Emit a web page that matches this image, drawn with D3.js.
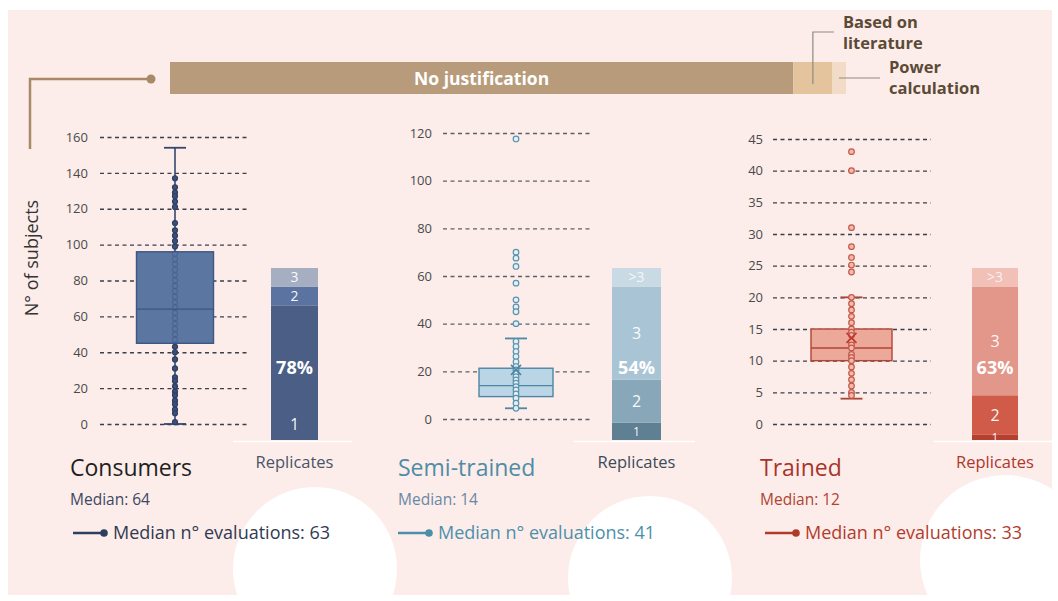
<!DOCTYPE html>
<html>
<head>
<meta charset="utf-8">
<script src="https://cdn.jsdelivr.net/npm/d3@7"></script>
<style>
  body { margin: 0; background: #fff; }
  svg { display: block; }
  text { font-family: "Open Sans", Roboto, sans-serif; }
</style>
</head>
<body>
<div id="chart"></div>
<script>
// justification of panel size (share of studies, %)
const justification = ["No justification", "Based on literature", "Power calculation"]
const justificationShare = [92.2, 5.8, 2.0]

// the three panel types
const groups = ["Consumers", "Semi-trained", "Trained"]
const medians = [64, 14, 12]
const medianEvaluations = [63, 41, 33]

const yTicks = [
  [0, 20, 40, 60, 80, 100, 120, 140, 160],
  [0, 20, 40, 60, 80, 100, 120],
  [0, 5, 10, 15, 20, 25, 30, 35, 40, 45]
]

// box plot stats (n° of subjects)
const boxLow = [0, 4.5, 4]
const boxQ1 = [45, 9.4, 10]
const boxQ3 = [96, 21.3, 15]
const boxHigh = [154, 33.8, 20]
const boxMean = [null, 20.6, 13.6]

// individual studies
const consumerPoints = [137, 132, 129, 127, 124, 121, 112, 108, 105, 102, 99,
  95, 92, 89, 86, 83, 80, 77, 74, 71, 68, 65, 62, 59, 56, 53, 50, 47,
  43, 40, 36, 31, 26, 24, 21, 18, 16, 13, 11, 8, 6, 1]
const semiPoints = [117.5, 70, 67.5, 64, 57, 50, 47, 45, 40,
  32.5, 30.4, 28.3, 26.2, 24, 22, 20.6, 19.2, 17.8, 16.4, 15, 13.6, 12.2, 10.5, 8.7, 6.6, 4.5]
const trainedPoints = [43, 40, 31, 28, 26.3, 25.1, 24,
  20, 19, 18, 17, 16, 15, 14.5, 14, 13, 12.5, 12, 11, 10.5, 10, 9, 8, 7, 6, 5, 4.5]
const points = [consumerPoints, semiPoints, trainedPoints]

// replicates (share of studies, %)
const replicateLabels = [["1", "2", "3"], ["1", "2", "3", ">3"], ["1", "2", "3", ">3"]]
const replicateShares = [[78, 11, 11], [10, 25, 54, 11], [3, 23, 63, 11]]
const replicateHighlight = [0, 2, 2]

const width = 1058
const height = 601

const svg = d3.select('#chart')
  .append('svg')
  .attr('width', width)
  .attr('height', height)

svg.append('rect')
  .attr('x', 8).attr('y', 10)
  .attr('width', 1044).attr('height', 585)
  .attr('fill', '#fcedea')

// white discs at the bottom
const discs = [[315, 569, 82], [650, 578, 82], [1005, 560, 85]]
svg.selectAll('circle.disc')
  .data(discs)
  .join('circle')
  .attr('class', 'disc')
  .attr('cx', d => d[0]).attr('cy', d => d[1]).attr('r', d => d[2])
  .attr('fill', '#fff')

// ---- top bar ----
const xShare = d3.scaleLinear().domain([0, 100]).range([170, 846])
const starts = d3.cumsum([0, ...justificationShare])
const topColors = ['#b89b7b', '#e3c49c', '#f2dcc8']

svg.append('g')
  .selectAll('rect')
  .data(justification)
  .join('rect')
  .attr('x', (d, i) => xShare(starts[i]))
  .attr('width', (d, i) => xShare(starts[i] + justificationShare[i]) - xShare(starts[i]))
  .attr('y', 62)
  .attr('height', 32)
  .attr('fill', (d, i) => topColors[i])

svg.append('text')
  .attr('x', (xShare(0) + xShare(justificationShare[0])) / 2)
  .attr('y', 84.5)
  .attr('text-anchor', 'middle')
  .attr('fill', '#fff')
  .attr('font-size', 17.5)
  .attr('font-weight', 700)
  .attr('font-family', 'Inter')
  .text(justification[0])

// connector to y axis
svg.append('path')
  .attr('d', 'M151,79 H30 V149')
  .attr('fill', 'none')
  .attr('stroke', '#a98a68')
  .attr('stroke-width', 2.5)
svg.append('circle')
  .attr('cx', 151).attr('cy', 79).attr('r', 4.5)
  .attr('fill', '#a98a68')

// leader lines
const litX = (xShare(starts[1]) + xShare(starts[2])) / 2
svg.append('path')
  .attr('d', `M${litX},84 V32 H834`)
  .attr('fill', 'none').attr('stroke', '#8f8a84').attr('stroke-width', 1.2)
svg.append('path')
  .attr('d', `M${xShare(100) - 7},78 H880`)
  .attr('fill', 'none').attr('stroke', '#8f8a84').attr('stroke-width', 1.2)

const noteText = (x, lines, y0) => {
  svg.append('text')
    .attr('x', x).attr('y', y0)
    .attr('fill', '#5b4a36')
    .attr('font-size', 16.5)
    .attr('font-weight', 700)
    .attr('font-family', 'Inter')
    .selectAll('tspan')
    .data(lines)
    .join('tspan')
    .attr('x', x)
    .attr('dy', (d, i) => i ? 21 : 0)
    .text(d => d)
}
noteText(843, ['Based on', 'literature'], 28)
noteText(889, ['Power', 'calculation'], 73)

svg.append('text')
  .attr('transform', 'translate(38,258) rotate(-90)')
  .attr('text-anchor', 'middle')
  .attr('fill', '#333')
  .attr('font-size', 18)
  .text('N° of subjects')

// ---- panels ----
const panels = [
  { x0: 100, x1: 250, yTop: 137, yBot: 424, max: 160, pad: 12, cx: 175, boxW: 77, barX: 271, barW: 47, titleX: 70, legX: 73,
    grid: '#3b3f4a', box: '#5b77a1', boxStroke: '#3d5682', whisk: '#34476d',
    dotFill: '#3b5079', dotStroke: '#2e3f63', inDot: '#3e5a88', mean: '#3d5682',
    bars: ['#4b5f86', '#5b73a1', '#a6aec2'],
    title: '#1f1f1f', repl: '#4a5468', med: '#3d4862', evalC: '#303a52', leg: '#2f3d5e' },
  { x0: 443, x1: 592, yTop: 133, yBot: 419, max: 120, pad: 11, cx: 516, boxW: 74, barX: 612, barW: 49, titleX: 398, legX: 398,
    grid: '#5b6068', box: '#bad5e5', boxStroke: '#4f86a3', whisk: '#4f86a3',
    dotFill: '#e4eff4', dotStroke: '#5a93ad', inDot: '#5a93ad', mean: '#4a86a8',
    bars: ['#5f7f93', '#88a8ba', '#a9c5d5', '#c9dae4'],
    title: '#4f8ca6', repl: '#3e4a58', med: '#6a88a4', evalC: '#4e90aa', leg: '#4a8ea8' },
  { x0: 773, x1: 931, yTop: 139, yBot: 424, max: 45, pad: 10, cx: 851.5, boxW: 81, barX: 972, barW: 46, titleX: 760, legX: 765,
    grid: '#3b3f4a', box: '#eca99a', boxStroke: '#b34535', whisk: '#a84536',
    dotFill: '#f3baab', dotStroke: '#c2594b', inDot: '#c2594b', mean: '#c03a2c',
    bars: ['#b5402f', '#cf5b48', '#e2978a', '#f1c0b6'],
    title: '#a8352b', repl: '#b0362a', med: '#b0442f', evalC: '#b33c2c', leg: '#b03a2a' }
]

const barTop = 268
const barBot = 440

panels.forEach((p, i) => {
  const g = svg.append('g')
  const y = d3.scaleLinear().domain([0, p.max]).range([p.yBot, p.yTop])

  // axis with dashed grid
  const yAxis = d3.axisLeft(y)
    .tickValues(yTicks[i])
    .tickSize(-(p.x1 - p.x0))
    .tickPadding(p.pad)

  g.append('g')
    .attr('transform', `translate(${p.x0},0)`)
    .call(yAxis)
    .attr('font-family', 'Roboto')
    .attr('font-size', 13)
    .call(a => a.select('.domain').remove())
    .call(a => a.selectAll('.tick line')
      .attr('stroke', p.grid)
      .attr('stroke-width', 1.4)
      .attr('stroke-dasharray', '4,3.5'))
    .call(a => a.selectAll('.tick text').attr('fill', '#4a4a4a'))

  // whisker
  const cap = 11
  g.append('line')
    .attr('x1', p.cx).attr('x2', p.cx)
    .attr('y1', y(boxLow[i])).attr('y2', y(boxHigh[i]))
    .attr('stroke', p.whisk).attr('stroke-width', 1.6)
  g.selectAll('line.cap')
    .data([boxLow[i], boxHigh[i]])
    .join('line')
    .attr('class', 'cap')
    .attr('x1', p.cx - cap).attr('x2', p.cx + cap)
    .attr('y1', d => y(d)).attr('y2', d => y(d))
    .attr('stroke', p.whisk).attr('stroke-width', 1.8)

  // box
  g.append('rect')
    .attr('x', p.cx - p.boxW / 2)
    .attr('width', p.boxW)
    .attr('y', y(boxQ3[i]))
    .attr('height', y(boxQ1[i]) - y(boxQ3[i]))
    .attr('fill', p.box)
    .attr('stroke', p.boxStroke)
    .attr('stroke-width', 1.4)
  g.append('line')
    .attr('x1', p.cx - p.boxW / 2).attr('x2', p.cx + p.boxW / 2)
    .attr('y1', y(medians[i])).attr('y2', y(medians[i]))
    .attr('stroke', p.boxStroke).attr('stroke-width', 1.3)

  // points
  const inBox = d => i === 0 && d > boxQ1[i] && d < boxQ3[i]
  g.selectAll('circle.pt')
    .data(points[i])
    .join('circle')
    .attr('class', 'pt')
    .attr('cx', p.cx)
    .attr('cy', d => y(d))
    .attr('r', i === 0 ? 2.5 : 2.8)
    .attr('fill', d => inBox(d) ? 'none' : p.dotFill)
    .attr('stroke', d => inBox(d) ? p.inDot : p.dotStroke)
    .attr('stroke-opacity', d => inBox(d) ? 0.55 : 1)
    .attr('stroke-width', 1.2)

  // mean marker
  if (boxMean[i] !== null) {
    const m = y(boxMean[i])
    g.append('path')
      .attr('d', `M${p.cx - 5},${m - 5} L${p.cx + 5},${m + 5} M${p.cx + 5},${m - 5} L${p.cx - 5},${m + 5}`)
      .attr('stroke', p.mean).attr('stroke-width', 1.6)
  }

  // replicates stacked bar (100%)
  const yBar = d3.scaleLinear().domain([0, 100]).range([barBot, barTop])
  const cum = d3.cumsum([0, ...replicateShares[i]])
  const clipId = `clip${i}`
  g.append('clipPath').attr('id', clipId)
    .append('rect')
    .attr('x', p.barX).attr('y', barTop)
    .attr('width', p.barW).attr('height', barBot - barTop)

  g.append('line')
    .attr('x1', p.barX - 38).attr('x2', p.barX + p.barW + 34)
    .attr('y1', barBot + 1.5).attr('y2', barBot + 1.5)
    .attr('stroke', '#fff').attr('stroke-width', 1.5)

  const bar = g.append('g').attr('clip-path', `url(#${clipId})`)
  bar.selectAll('rect')
    .data(replicateShares[i])
    .join('rect')
    .attr('x', p.barX)
    .attr('width', p.barW)
    .attr('y', (d, j) => yBar(cum[j] + d))
    .attr('height', (d, j) => yBar(cum[j]) - yBar(cum[j] + d))
    .attr('fill', (d, j) => p.bars[j])

  const pctY = yBar(42)
  const segH = d => yBar(0) - yBar(d)
  bar.selectAll('text.seg')
    .data(replicateShares[i])
    .join('text')
    .attr('class', 'seg')
    .attr('x', p.barX + p.barW / 2)
    .attr('y', (d, j) => {
      const c = (yBar(cum[j]) + yBar(cum[j] + d)) / 2
      return Math.abs(c - pctY) < 18 ? yBar(cum[j]) - 16 : c
    })
    .attr('dy', '0.36em')
    .attr('text-anchor', 'middle')
    .attr('fill', '#fff')
    .attr('fill-opacity', (d, j) => replicateLabels[i][j] === '>3' ? 0.8 : 0.95)
    .attr('font-family', 'Roboto')
    .attr('font-size', d => Math.max(12, Math.min(16, segH(d) - 5)))
    .text((d, j) => replicateLabels[i][j])

  g.append('text')
    .attr('x', p.barX + p.barW / 2)
    .attr('y', pctY)
    .attr('dy', '0.36em')
    .attr('text-anchor', 'middle')
    .attr('fill', '#fff')
    .attr('font-family', 'Roboto')
    .attr('font-size', 18)
    .attr('font-weight', 700)
    .text(replicateShares[i][replicateHighlight[i]] + '%')

  g.append('text')
    .attr('x', p.barX + p.barW / 2)
    .attr('y', 468)
    .attr('text-anchor', 'middle')
    .attr('fill', p.repl)
    .attr('font-size', 16.5)
    .text('Replicates')

  // titles and medians
  g.append('text')
    .attr('x', p.titleX).attr('y', 476)
    .attr('fill', p.title)
    .attr('font-size', 23)
    .text(groups[i])

  g.append('text')
    .attr('x', p.titleX).attr('y', 505)
    .attr('fill', p.med)
    .attr('font-size', 15.5)
    .text('Median: ' + medians[i])

  g.append('line')
    .attr('x1', p.legX).attr('x2', p.legX + 31)
    .attr('y1', 533).attr('y2', 533)
    .attr('stroke', p.leg).attr('stroke-width', 2.5)
  g.append('circle')
    .attr('cx', p.legX + 31).attr('cy', 533).attr('r', 3.8)
    .attr('fill', p.leg)
  g.append('text')
    .attr('x', p.legX + 40).attr('y', 539)
    .attr('fill', p.evalC)
    .attr('font-size', 18)
    .text('Median n° evaluations: ' + medianEvaluations[i])
})
</script>
</body>
</html>
